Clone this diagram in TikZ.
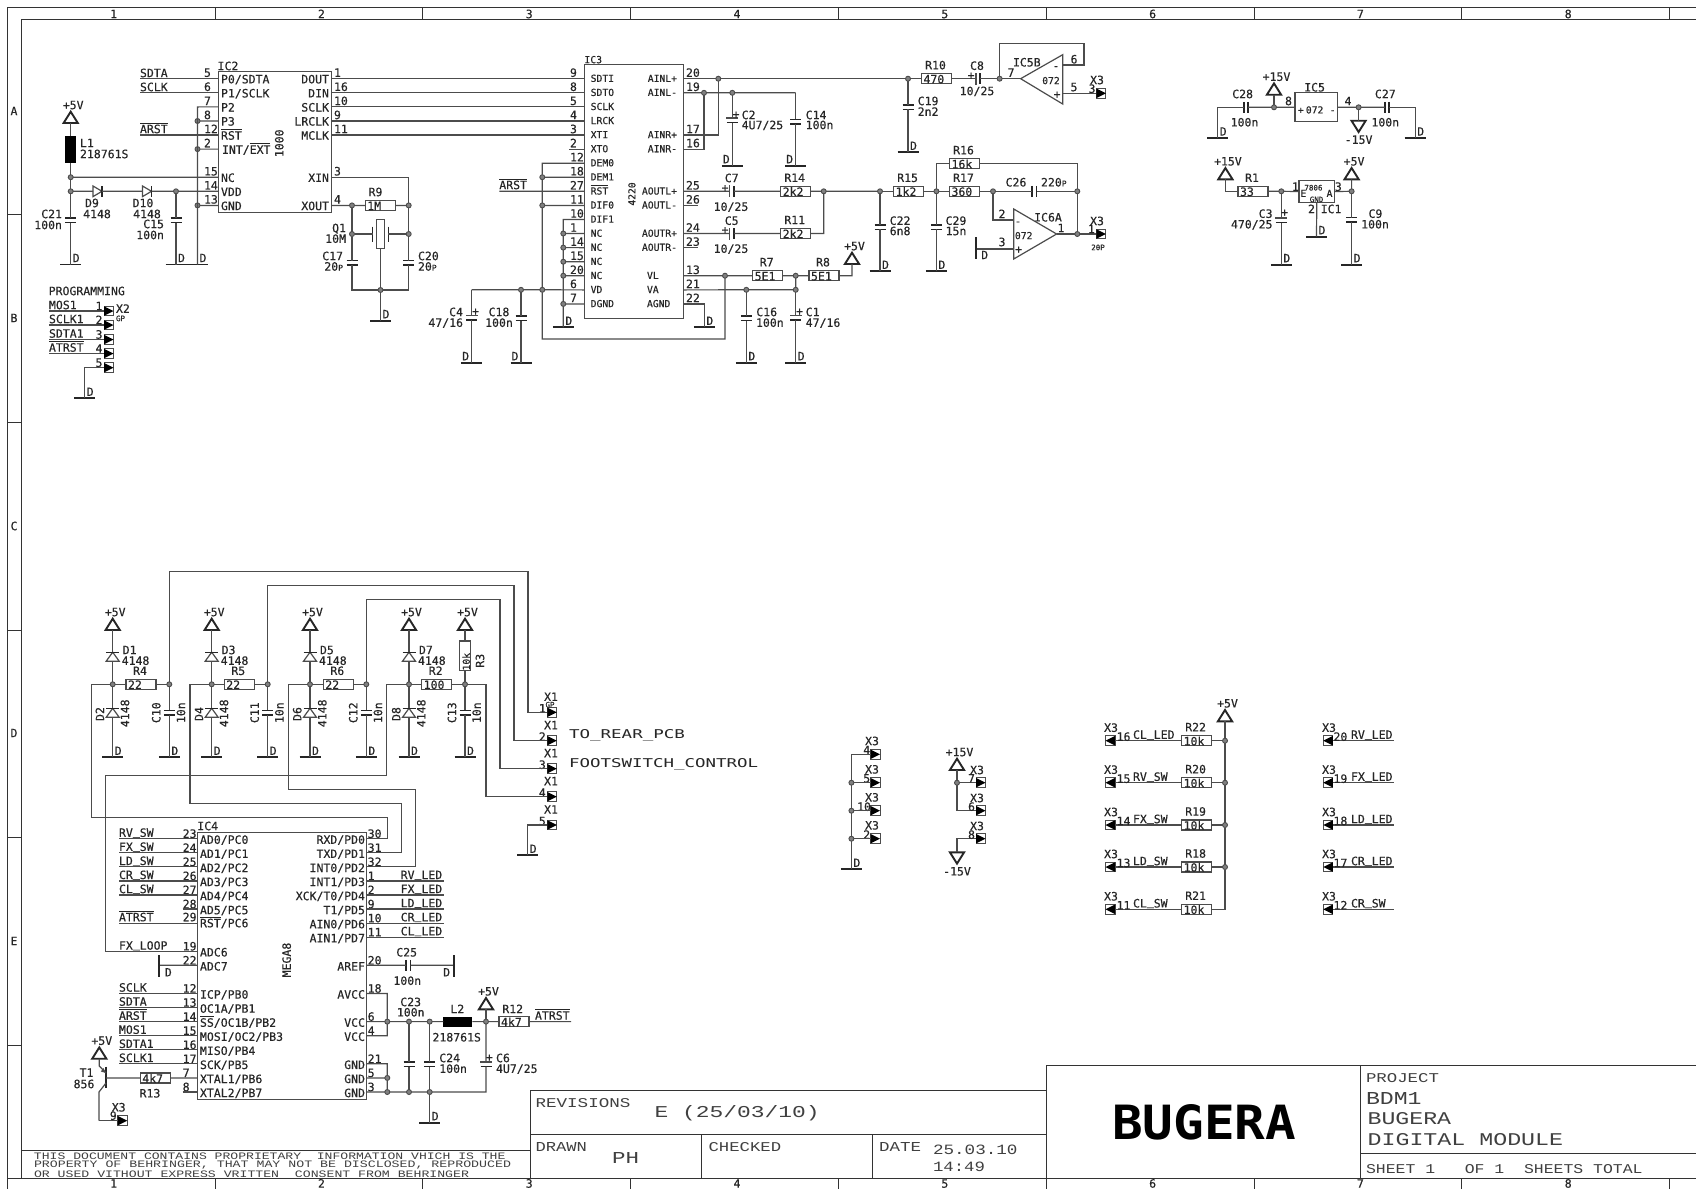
\documentclass[tikz,border=0pt]{standalone}
\usepackage{fontspec}
\usepackage{graphicx}
\setmainfont{DejaVu Sans Mono}
\newfontfamily\schem[FakeBold=0.35]{DejaVu Sans Mono}
\newfontfamily\thinfont{Liberation Mono}
\definecolor{wirec}{gray}{0.30}
\definecolor{textc}{gray}{0.15}
\newcounter{tc}
\newcommand\smf{\fontsize{9.7}{9.7}\selectfont}
\newcommand\tnf{\fontsize{7.5}{7.5}\selectfont}
\newcommand\smP{{\fontsize{8}{8}\selectfont P}}
\newcommand\ovl[1]{\vbox{\hrule height .9pt \kern 1.1pt \hbox{#1}}}
\newcommand\us{\raisebox{2pt}{\_}}
\tikzset{
 wire/.style={draw=wirec,line width=1.2pt,line join=miter},
 part/.style={draw=wirec,line width=1.2pt},
 frm/.style={draw=black!80,line width=1pt},
 plate/.style={draw=textc,line width=1.6pt},
 sup/.style={draw=textc,line width=1.9pt,line join=miter},
 bar/.style={draw=textc,line width=1.9pt},
 lbl/.style={font=\schem\fontsize{11.5}{11.5}\selectfont,inner sep=0pt,outer sep=0pt,text=textc,text height=8.3pt,text depth=0pt},
 holder/.style={rectangle,inner sep=0pt,outer sep=0pt},
 resbox/.style={rectangle,draw=wirec,line width=1.2pt,inner sep=0pt,outer sep=0pt,minimum width=30pt,minimum height=10pt},
 icbox/.style={rectangle,draw=wirec,line width=1.2pt,inner sep=0pt,outer sep=0pt,anchor=north west},
 jdot/.style={circle,draw=wirec,fill=black!50,line width=.9pt,inner sep=0pt,outer sep=0pt,minimum size=5pt},
 ind/.style={rectangle,fill=black,inner sep=0pt,outer sep=0pt},
 conbox/.style={rectangle,draw=wirec,line width=1pt,inner sep=0pt,outer sep=0pt,minimum width=9.5pt,minimum height=9.5pt},
 fit/.style={inner sep=0pt,outer sep=0pt,anchor=west,text=black!75}
}
\newcommand\lblL[3]{\stepcounter{tc}\node[lbl,anchor=west] (t\arabic{tc}) at (#1,#2) {#3};}
\newcommand\lblR[3]{\stepcounter{tc}\node[lbl,anchor=east] (t\arabic{tc}) at (#1,#2) {#3};}
\newcommand\lblC[3]{\stepcounter{tc}\node[lbl] (t\arabic{tc}) at (#1,#2) {#3};}
\newcommand\lblV[3]{\stepcounter{tc}\node[lbl,rotate=90] (t\arabic{tc}) at (#1,#2) {#3};}
\newcommand\fitT[5]{\stepcounter{tc}\node[fit] (t\arabic{tc}) at (#1,#2) {\resizebox{#3pt}{#4pt}{\thinfont #5}};}
\newcommand\jn[3]{\node[jdot] (#1) at (#2,#3) {};}
\newcommand\rsn[4]{\node[resbox,anchor=west] (#1) at (#2,#3) {};\lblL{#2+2}{#3+.5}{#4}}
\newcommand\rs[4]{\rsn{#1}{#2}{#3}{#4}\lblC{#2+14}{#3-13.5}{#1}}
\newcommand\cpv[3]{\node[holder,minimum width=11pt,minimum height=4.4pt] (#1) at (#2,#3) {};
 \draw[plate] (#1.north west)--(#1.north east) (#1.south west)--(#1.south east);}
\newcommand\cph[3]{\node[holder,minimum width=4.4pt,minimum height=11pt] (#1) at (#2,#3) {};
 \draw[plate] (#1.north west)--(#1.south west) (#1.north east)--(#1.south east);}
\newcommand\ppv[3]{\node[holder,minimum width=11pt,minimum height=5pt] (#1) at (#2,#3) {};
 \draw[part,line width=.9pt] (#1.north west) rectangle ([yshift=1.8pt]#1.east);
 \draw[plate,line width=1.9pt] (#1.south west)--(#1.south east);}
\newcommand\pph[3]{\node[holder,minimum width=5pt,minimum height=11pt] (#1) at (#2,#3) {};
 \draw[part,line width=.9pt] (#1.north west) rectangle ([xshift=-1.8pt]#1.south);
 \draw[plate,line width=1.9pt] (#1.north east)--(#1.south east);}
\newcommand\gnd[3]{\coordinate (#1) at (#2,#3);\draw[bar] (#2-10.5,#3)--(#2+10.5,#3);\lblC{#2+5.5}{#3-6.5}{D}}
\newcommand\gndl[3]{\coordinate (#1) at (#2,#3);\draw[bar] (#2-10.5,#3)--(#2+10.5,#3);\lblC{#2-6}{#3-6.5}{D}}
\newcommand\vup[4]{\coordinate (#1) at (#2,#3);\draw[sup] (#2-7.1,#3)--(#2,#3-11.3)--(#2+7.1,#3)--cycle;\lblC{#2+2.5}{#3-18}{#4}}
\newcommand\vdn[4]{\coordinate (#1) at (#2,#3);\draw[sup] (#2-7.1,#3)--(#2,#3+11.3)--(#2+7.1,#3)--cycle;\lblC{#2}{#3+19}{#4}}
\newcommand\dih[3]{\node[holder,minimum width=9pt,minimum height=10.6pt] (#1) at (#2,#3) {};
 \draw[part] (#1.north west)--(#1.south west)--(#1.east)--cycle;
 \draw[plate,line width=1.2pt] (#1.north east)--(#1.south east);}
\newcommand\diu[3]{\node[holder,minimum width=13pt,minimum height=9pt] (#1) at (#2,#3) {};
 \draw[part] (#1.south west)--(#1.south east)--(#1.north)--cycle;
 \draw[plate,line width=1.2pt] (#1.north west)--(#1.north east);}
\newcommand\conr[3]{\node[conbox,anchor=west] (#1) at (#2,#3) {};
 \fill[black] (#1.north west)--(#1.east)--(#1.south west)--cycle;}
\newcommand\conl[3]{\node[conbox,anchor=east] (#1) at (#2,#3) {};
 \fill[black] (#1.north east)--(#1.west)--(#1.south east)--cycle;}
\begin{document}
\begin{tikzpicture}[x=1pt,y=-1pt]
\useasboundingbox (0,0) rectangle (1696,1188.6);
\fill[white] (0,0) rectangle (1696,1188.6);
% ---------- frame
\draw[frm] (7,1189)--(7,7)--(1696,7);
\draw[frm] (21,1178)--(21,19.5)--(1696,19.5);
\draw[frm] (7,1178)--(1696,1178);
\foreach \y in {214,422,630,837,1045} \draw[frm] (7,\y)--(21,\y);
\foreach \k in {0,...,7} {
  \draw[frm] ({215+207.8*\k},7)--({215+207.8*\k},19.5);
  \draw[frm] ({215+207.8*\k},1178)--({215+207.8*\k},1189);
}
\foreach \k/\n in {0/1,1/2,2/3,3/4,4/5,5/6,6/7,7/8} {
  \lblC{113.6+207.8*\k}{14}{\n}
  \lblC{113.6+207.8*\k}{1183.5}{\n}
}
\foreach \y/\n in {111/A,318/B,526/C,733/D,941/E} \lblC{14}{\y}{\n}
% ---------- title block
\draw[frm] (21,1150.7)--(530,1150.7);
\draw[frm] (530,1178)--(530,1090)--(1046,1090);
\draw[frm] (530,1134)--(1046,1134);
\draw[frm] (701,1134)--(701,1178);
\draw[frm] (872,1134)--(872,1178);
\draw[frm] (1046,1178)--(1046,1065.3)--(1696,1065.3);
\draw[frm] (1360.5,1065.3)--(1360.5,1178);
\draw[frm] (1360.5,1153)--(1696,1153);
\fitT{34}{1156.3}{471.5}{6.6}{THIS DOCUMENT CONTAINS PROPRIETARY~~INFORMATION VHICH IS THE}
\fitT{34}{1165.2}{477}{6.6}{PROPERTY OF BEHRINGER, THAT MAY NOT BE DISCLOSED, REPRODUCED}
\fitT{34}{1174}{435}{6.6}{OR USED VITHOUT EXPRESS VRITTEN~~CONSENT FROM BEHRINGER}
\fitT{535.5}{1103}{95}{9}{REVISIONS}
\fitT{654.5}{1113.3}{165}{12}{E (25/03/10)}
\fitT{535.5}{1147}{51.5}{9}{DRAWN}
\fitT{612}{1158}{27}{11}{PH}
\fitT{708.6}{1147}{72.5}{9}{CHECKED}
\fitT{879}{1147}{42}{9}{DATE}
\fitT{933}{1150}{84.5}{9.5}{25.03.10}
\fitT{933}{1167}{52}{9.5}{14:49}
\stepcounter{tc}\node[fit,text=black] (logo) at (1112,1122.5) {\resizebox{184pt}{35pt}{\bfseries BUGERA}};
\fitT{1366}{1078}{73}{9}{PROJECT}
\fitT{1366}{1098}{55.6}{12}{BDM1}
\fitT{1367.6}{1119}{83.5}{12}{BUGERA}
\fitT{1367.6}{1140}{195.5}{12}{DIGITAL MODULE}
\fitT{1366}{1169}{276.5}{9}{SHEET 1~~~OF 1~~SHEETS TOTAL}
% ---------- pin coordinates
\foreach \k in {0,...,16} {
  \coordinate (c\k) at (218.7,{78.7+14.08*\k});
  \coordinate (d\k) at (331.7,{78.7+14.08*\k});
  \coordinate (a\k) at (584.3,{78.7+14.08*\k});
  \coordinate (b\k) at (683.3,{78.7+14.08*\k});
  \coordinate (cs\k) at (140,{78.7+14.08*\k});
  \coordinate (as\k) at (569.3,{78.7+14.08*\k});
  \coordinate (bs\k) at (698,{78.7+14.08*\k});
}
\foreach \k in {0,...,18} {
  \coordinate (e\k) at (197.7,{838.7+14.07*\k});
  \coordinate (f\k) at (366.7,{838.7+14.07*\k});
  \coordinate (es\k) at (119,{838.7+14.07*\k});
  \coordinate (et\k) at (182.7,{838.7+14.07*\k});
  \coordinate (fs\k) at (444.3,{838.7+14.07*\k});
}
% ---------- IC2
\node[icbox,minimum width=113pt,minimum height=141pt] (IC2) at (218.7,71.7) {};
\lblC{228}{66}{IC2}
\lblV{279.3}{143.3}{1000}
\foreach \k/\n/\p in {0/5/{P0/SDTA},1/6/{P1/SCLK},2/7/P2,3/8/P3,4/12/{\ovl{RST}},7/15/NC,8/14/VDD,9/13/GND}
 { \lblL{204}{78.7+14.08*\k-6}{\n} \lblL{221}{78.7+14.08*\k+.5}{\p} }
\lblL{204}{143.1}{2}
\lblL{222}{149.6}{INT/\ovl{EXT}}
\foreach \k/\n/\p in {0/1/DOUT,1/16/DIN,2/10/SCLK,3/9/LRCLK,4/11/MCLK,7/3/XIN,9/4/XOUT}
 { \lblL{334}{78.7+14.08*\k-6}{\n} \lblR{329}{78.7+14.08*\k+.5}{\p} }
\lblL{140}{73}{SDTA}
\lblL{140}{87}{SCLK}
\lblL{140}{129}{\ovl{ARST}}
\foreach \k in {0,1,4} \draw[wire] (cs\k)--(c\k);
\foreach \k in {0,...,4} \draw[wire] (d\k)--(a\k);
\coordinate (p7) at (197.5,106.9);
\gnd{gB2}{197.5}{264.5}
\jn{j8}{197.5}{121}
\jn{j2}{197.5}{149.1}
\jn{j13}{197.5}{205.4}
\draw[wire] (c2)--(p7)--(gB2);
\draw[wire] (j8)--(c3) (j2)--(c5) (j13)--(c9);
\vup{vA}{70.7}{123}{+5V}
\node[ind,minimum width=11pt,minimum height=27.5pt] (L1) at (70.7,149.4) {};
\lblL{80}{143}{L1}
\lblL{80}{154}{218761S}
\jn{j15}{70.7}{177.2}
\jn{j14}{70.7}{191.3}
\cpv{C21}{70.7}{220.3}
\gnd{gA}{70.7}{264.5}
\draw[wire] (vA)--(L1.north) (L1.south)--(j15)--(j14)--(C21.north) (C21.south)--(gA);
\draw[wire] (j15)--(c7);
\lblR{62}{214}{C21}
\lblR{62}{225}{100n}
\dih{D9}{97.5}{191.3}
\dih{D10}{147}{191.3}
\jn{j14b}{176}{191.3}
\draw[wire] (j14)--(D9.west) (D9.east)--(D10.west) (D10.east)--(j14b)--(c8);
\lblC{92}{203}{D9}
\lblC{97}{214}{4148}
\lblC{143}{203}{D10}
\lblC{147}{214}{4148}
\cpv{C15}{176}{220.3}
\gnd{gB}{176}{264.5}
\draw[wire] (j14b)--(C15.north) (C15.south)--(gB);
\lblR{164}{224}{C15}
\lblR{164}{235}{100n}
% crystal
\jn{jXa}{352}{205.4}
\jn{jXb}{408.7}{205.4}
\jn{jQa}{352}{234}
\jn{jQb}{408.7}{234}
\jn{jXg}{380.5}{290}
\rsn{R9}{365.3}{205.4}{1M}
\lblC{375.5}{192}{R9}
\node[resbox,minimum width=7.5pt,minimum height=29pt] (Q1) at (380.5,233.8) {};
\coordinate (Qa) at (372.7,234);
\coordinate (Qb) at (388.3,234);
\draw[plate,line width=1.2pt] (372.7,226.5)--(372.7,241.5) (388.3,226.5)--(388.3,241.5);
\cpv{C17}{352}{262.8}
\cpv{C20}{408.7}{262.8}
\gnd{gQ}{380.5}{320.7}
\draw[wire] (d7)-|(jXb)--(jQb)--(C20.north) (C20.south)|-(jXg);
\draw[wire] (d9)--(jXa)--(R9.west) (R9.east)--(jXb);
\draw[wire] (jXa)--(jQa)--(C17.north) (C17.south)|-(jXg);
\draw[wire] (jQa)--(Qa) (Qb)--(jQb);
\draw[wire] (Q1.south)--(jXg)--(gQ);
\lblR{346}{228}{Q1}
\lblR{346}{238.7}{10M}
\lblR{343}{256}{C17}
\lblR{343}{266.5}{20\smP}
\lblL{418}{256}{C20}
\lblL{418}{266.5}{20\smP}
% programming
\lblL{48.7}{291}{PROGRAMMING}
\foreach \n/\y/\t/\p in {a/311/MOS1/1,b/325/SCLK1/2,c/339.5/SDTA1/3,d/353.5/{\ovl{ATRST}}/4} {
  \conr{X2\n}{104}{\y}
  \coordinate (pr\n) at (49,\y);
  \draw[wire] (pr\n)--(X2\n.west);
  \lblL{49}{\y-6}{\t}
  \lblC{99}{\y-5}{\p}
}
\conr{X2e}{104}{367.7}
\gnd{gP}{84.7}{398.3}
\draw[wire] (X2e.west)-|(gP);
\lblC{99}{362.7}{5}
\lblL{116}{308.7}{X2}
\lblL{116}{317}{\tnf GP}
% ---------- IC3
\node[icbox,minimum width=99pt,minimum height=253.6pt] (IC3) at (584.3,64.7) {};
\lblL{584.5}{59}{\smf IC3}
\lblV{631.3}{194}{\smf 4220}
\foreach \k/\n/\p in {0/9/SDTI,1/8/SDTO,2/5/SCLK,3/4/LRCK,4/3/XTI,5/2/XTO,6/12/DEM0,7/18/DEM1,8/27/{\ovl{RST}},9/11/DIF0,10/10/DIF1,11/1/NC,12/14/NC,13/15/NC,14/20/NC,15/6/VD,16/7/DGND}
 { \lblL{570}{78.7+14.08*\k-6}{\n} \lblL{590.7}{78.7+14.08*\k-1}{\smf \p} }
\foreach \k/\n in {0/20,1/19,4/17,5/16,8/25,9/26,11/24,12/23,14/13,15/21,16/22}
 { \lblL{686}{78.7+14.08*\k-6}{\n} }
\foreach \k/\p in {0/AINL+,1/AINL-,4/AINR+,5/AINR-,8/AOUTL+,9/AOUTL-,11/AOUTR+,12/AOUTR-}
 { \lblR{677}{78.7+14.08*\k-1}{\smf \p} }
\foreach \k/\p in {14/VL,15/VA,16/AGND}
 { \lblL{647}{78.7+14.08*\k-1}{\smf \p} }
\foreach \k in {5} \draw[wire] (as\k)--(a\k);
\foreach \k in {9,12} \draw[wire] (b\k)--(bs\k);
% left bus
\jn{jL7}{542.3}{177.2}
\jn{jL9}{542.3}{205.4}
\jn{jL15}{542.3}{289.8}
\jn{jVD}{521}{289.8}
\jn{jN11}{563.3}{233.5}
\jn{jN12}{563.3}{247.6}
\jn{jN13}{563.3}{261.7}
\jn{jN14}{563.3}{275.7}
\jn{jN16}{563.3}{303.9}
\jn{jVL}{725}{275.7}
\coordinate (busT) at (542.3,163.2);
\coordinate (busB) at (542.3,339);
\coordinate (busR) at (725,339);
\coordinate (c4t) at (471.7,289.8);
\coordinate (rstS) at (499.3,191.3);
\draw[wire] (a6)--(busT)--(jL7)--(jL9)--(jL15)--(busB)--(busR)--(jVL);
\draw[wire] (jL7)--(a7) (jL9)--(a9) (rstS)--(a8);
\lblL{499.3}{185}{\ovl{ARST}}
\coordinate (n10) at (563.3,219.4);
\gnd{gN}{563.3}{327.3}
\draw[wire] (a10)--(n10)--(jN11)--(jN12)--(jN13)--(jN14)--(jN16)--(gN);
\foreach \k/\j in {11/jN11,12/jN12,13/jN13,14/jN14,16/jN16} \draw[wire] (\j)--(a\k);
\draw[wire] (c4t)--(jVD)--(jL15)--(a15);
\ppv{C4}{471.7}{317.5}
\cpv{C18}{521}{318.3}
\gndl{gC4}{471.7}{362.7}
\gndl{gC18}{521}{362.7}
\draw[wire] (c4t)--(C4.north) (C4.south)--(gC4) (jVD)--(C18.north) (C18.south)--(gC18);
\lblC{475.5}{311}{+}
\lblR{463}{312}{C4}
\lblR{463}{322.7}{47/16}
\lblC{499}{312}{C18}
\lblC{499}{322.7}{100n}
% right side inputs
\jn{jA0}{718.3}{78.7}
\jn{jA1}{704}{92.8}
\jn{jC2}{732.3}{92.8}
\coordinate (c14t) at (795.7,92.8);
\jn{jR10}{908}{78.7}
\draw[wire] (b0)--(jA0)--(jR10);
\draw[wire] (b1)--(jA1)--(jC2)--(c14t);
\draw[wire] (b4)-|(jA0);
\draw[wire] (b5)-|(jA1);
\ppv{C2}{732.3}{120}
\cpv{C14}{795.7}{121.5}
\gndl{gC2}{732.3}{165.7}
\gndl{gC14}{795.7}{165.7}
\draw[wire] (jC2)--(C2.north) (C2.south)--(gC2) (c14t)--(C14.north) (C14.south)--(gC14);
\lblC{736}{114}{+}
\lblL{741.7}{115}{C2}
\lblL{741.7}{125}{4U7/25}
\lblL{805.7}{115}{C14}
\lblL{805.7}{125}{100n}
% outputs
\pph{C7}{731.7}{191.3}
\pph{C5}{731.7}{233.5}
\rs{R14}{780.7}{191.3}{2k2}
\rs{R11}{780.7}{233.5}{2k2}
\jn{jMix}{823.7}{191.3}
\jn{jF}{880}{191.3}
\draw[wire] (b8)--(C7.west) (C7.east)--(R14.west) (R14.east)--(jMix)--(jF);
\draw[wire] (b11)--(C5.west) (C5.east)--(R11.west) (R11.east)-|(jMix);
\lblC{731.7}{178}{C7}
\lblC{731}{206.7}{10/25}
\lblC{725}{187.5}{+}
\lblC{731.7}{220.7}{C5}
\lblC{731}{248.7}{10/25}
\lblC{725}{229.5}{+}
% VL VA
\rs{R7}{752.7}{275.7}{5E1}
\rs{R8}{809}{275.7}{5E1}
\jn{jVA}{795.7}{275.7}
\jn{jVb}{795.7}{289.8}
\jn{jC16}{746.3}{289.8}
\vup{vR8}{852}{264}{+5V}
\coordinate (r8c) at (852,275.7);
\draw[wire] (b14)--(jVL)--(R7.west) (R7.east)--(jVA)--(R8.west) (R8.east)--(r8c)--(vR8);
\draw[wire] (b15)--(jC16)--(jVb)--(jVA);
\cpv{C16}{746.3}{318.3}
\ppv{C1}{795.7}{317.5}
\gnd{gC16}{746.3}{362.7}
\gnd{gC1}{795.7}{362.7}
\draw[wire] (jC16)--(C16.north) (C16.south)--(gC16) (jVb)--(C1.north) (C1.south)--(gC1);
\lblC{799.5}{311}{+}
\lblC{766.7}{312}{C16}
\lblL{756}{322.7}{100n}
\lblL{805.7}{312}{C1}
\lblL{805.7}{322.7}{47/16}
\gnd{gAG}{704.3}{327.3}
\draw[wire] (b16)-|(gAG);
% ---------- opamp IC5B
\rs{R10}{921.5}{78.7}{470}
\jn{jOA}{999.6}{78.7}
\pph{C8}{977.8}{78.7}
\cpv{C19}{908}{107.2}
\gnd{gC19}{908}{152.3}
\coordinate (u1t) at (1020.6,78.7);
\coordinate (u1m) at (1062.7,65);
\coordinate (u1p) at (1062.7,93.3);
\coordinate (fbA) at (999.6,43.7);
\coordinate (fbB) at (1084,43.7);
\draw[part] (u1t)--(1062.7,54.7)--(1062.7,104)--cycle;
\draw[wire] (jR10)--(R10.west) (R10.east)--(C8.west) (C8.east)--(jOA)--(u1t);
\draw[wire] (jR10)--(C19.north) (C19.south)--(gC19);
\draw[wire] (jOA)--(fbA)--(fbB)|-(u1m);
\conr{X3c}{1096.4}{93.3}
\draw[wire] (u1p)--(X3c.west);
\lblC{977}{65.7}{C8}
\lblC{971}{75}{+}
\lblC{977}{91}{10/25}
\lblL{917.7}{101}{C19}
\lblL{917.7}{111.7}{2n2}
\lblC{1011}{72.7}{7}
\lblC{1074}{59.3}{6}
\lblC{1074}{87}{5}
\lblC{1056}{65.7}{-}
\lblC{1057}{94}{+}
\lblC{1051}{80}{\smf 072}
\lblC{1026.8}{62.3}{IC5B}
\lblC{1097}{80}{X3}
\lblC{1092}{88.7}{3}
% ---------- opamp IC6A
\rs{R15}{893.6}{191.3}{1k2}
\jn{jG}{936.4}{191.3}
\rs{R17}{949.5}{191.3}{360}
\jn{jH}{993}{191.3}
\cph{C26}{1034.4}{191.3}
\jn{jI}{1077.3}{191.3}
\rs{R16}{949.5}{163.7}{16k}
\jn{jO}{1077.3}{234}
\coordinate (fbC) at (936.4,163.7);
\coordinate (fbD) at (1077.3,163.7);
\coordinate (u2t) at (1056.6,234);
\coordinate (u2m) at (1013.7,220);
\coordinate (u2p) at (1013.7,249);
\coordinate (u2g) at (976.2,249);
\draw[part] (u2t)--(1013.7,209)--(1013.7,259)--cycle;
\draw[wire] (jF)--(R15.west) (R15.east)--(jG)--(R17.west) (R17.east)--(jH)--(C26.west) (C26.east)--(jI);
\draw[wire] (jG)--(fbC)--(R16.west) (R16.east)--(fbD)--(jI)--(jO);
\draw[wire] (jH)|-(u2m);
\draw[wire] (u2g)--(u2p);
\draw[bar] (976.2,237.3)--(976.2,258.7);
\lblC{984.7}{255}{D}
\conr{X3a}{1096.4}{234}
\draw[wire] (u2t)--(jO)--(X3a.west);
\cpv{C22}{880}{227.2}
\cpv{C29}{936.4}{227.2}
\gnd{gC22}{880}{271.3}
\gnd{gC29}{936.4}{271.3}
\draw[wire] (jF)--(C22.north) (C22.south)--(gC22) (jG)--(C29.north) (C29.south)--(gC29);
\lblL{889.7}{220.7}{C22}
\lblL{889.7}{231}{6n8}
\lblL{945.6}{220.7}{C29}
\lblL{945.6}{231}{15n}
\lblC{1016}{182.3}{C26}
\lblL{1041}{182.3}{220\smP}
\lblC{1018}{221}{-}
\lblC{1018.7}{249}{+}
\lblC{1023.7}{235}{\smf 072}
\lblC{1048}{217.3}{IC6A}
\lblC{1002}{214}{2}
\lblC{1002}{242}{3}
\lblC{1061}{228}{1}
\lblC{1097}{221}{X3}
\lblC{1091.4}{229}{1}
\lblC{1098}{246}{\tnf 20P}
% ---------- power group
\gnd{gC28}{1217.7}{138}
\cph{C28}{1246}{107.3}
\jn{jIp}{1274}{107.3}
\vup{vIp}{1274}{94.7}{+15V}
\node[icbox,minimum width=42.5pt,minimum height=29pt] (IC5) at (1295,92.7) {};
\jn{jIm}{1358.6}{107.3}
\cph{C27}{1387}{107.3}
\gnd{gC27}{1415.2}{138}
\vdn{vIm}{1358.6}{120.7}{-15V}
\draw[wire] (gC28)|-(C28.west);
\draw[wire] (C28.east)--(jIp)--(IC5.west) (IC5.east)--(jIm)--(C27.west);
\draw[wire] (C27.east)-|(gC27);
\draw[wire] (jIp)--(vIp) (jIm)--(vIm);
\lblC{1242.6}{94}{C28}
\lblC{1244.5}{122.3}{100n}
\lblC{1288.5}{101}{8}
\lblC{1314.6}{87.3}{IC5}
\lblC{1300.8}{109.3}{\smf +}
\lblC{1314.6}{109.3}{\smf 072}
\lblC{1332.5}{109.3}{\smf -}
\lblC{1348}{101}{4}
\lblC{1385.3}{94}{C27}
\lblC{1385.3}{122.3}{100n}
% regulator
\vup{vR1}{1225.4}{179.3}{+15V}
\rs{R1}{1238}{191.3}{33}
\jn{jC3}{1281.3}{191.3}
\node[icbox,minimum width=35.5pt,minimum height=21.6pt] (IC1) at (1299,180.7) {};
\jn{jC9}{1351.6}{191.3}
\vup{vC9}{1351.6}{179.3}{+5V}
\ppv{C3}{1281.3}{220}
\cpv{C9}{1351.6}{219.8}
\gnd{gC3}{1281.3}{264.7}
\gnd{gC9}{1351.6}{264.7}
\gnd{gIC1}{1316.5}{236.7}
\draw[wire] (vR1)|-(R1.west);
\draw[wire] (R1.east)--(jC3)--(IC1.west) (IC1.east)--(jC9)--(vC9);
\draw[wire] (jC3)--(C3.north) (C3.south)--(gC3) (jC9)--(C9.north) (C9.south)--(gC9);
\draw[wire] (IC1.south)--(gIC1);
\lblC{1284.7}{212}{+}
\lblC{1265.6}{213.7}{C3}
\lblR{1272.5}{224.3}{470/25}
\lblC{1295.4}{186.7}{1}
\lblC{1313.4}{186.3}{\tnf 7806}
\lblC{1303.4}{192.7}{\smf E}
\lblC{1329.5}{192.7}{\smf A}
\lblC{1316.5}{198}{\tnf GND}
\lblC{1338.3}{186.7}{3}
\lblL{1320.7}{209}{IC1}
\lblC{1311.5}{209}{2}
\lblL{1368.5}{213.7}{C9}
\lblL{1361.2}{224.3}{100n}
% ---------- protection stages
\foreach \x/\xr/\xc/\da/\db/\rn/\rv/\cn in
 {112.7/126/169.3/D1/D2/R4/22/C10, 211.7/224.3/267.7/D3/D4/R5/22/C11, 310/323.3/366.3/D5/D6/R6/22/C12, 409/421.7/465/D7/D8/R2/100/C13} {
  \vup{v\da}{\x}{630}{+5V}
  \diu{\da}{\x}{656.7}
  \diu{\db}{\x}{712.8}
  \jn{jd\rn}{\x}{684.3}
  \jn{jc\rn}{\xc}{684.3}
  \rs{\rn}{\xr}{684.3}{\rv}
  \cpv{\cn}{\xc}{712.5}
  \gnd{gd\rn}{\x}{757.3}
  \gnd{gc\rn}{\xc}{757.3}
  \draw[wire] (v\da)--(\da.north) (\da.south)--(jd\rn)--(\db.north) (\db.south)--(gd\rn);
  \draw[wire] (jd\rn)--(\rn.west) (\rn.east)--(jc\rn)--(\cn.north) (\cn.south)--(gc\rn);
  \lblL{\x+10}{650}{\da}
  \lblL{\x+9}{660.7}{4148}
  \lblV{\x-12.7}{714}{\db}
  \lblV{\x+12.3}{713.3}{4148}
  \lblV{\xc-13}{712.7}{\cn}
  \lblV{\xc+11.7}{712.7}{10n}
}
\vup{vR3}{465}{630}{+5V}
\node[resbox,minimum width=11.4pt,minimum height=29.7pt] (R3) at (465,655.9) {};
\draw[wire] (vR3)--(R3.north) (R3.south)--(jcR2);
\lblV{465.7}{661.7}{\smf 10k}
\lblV{480}{660.7}{R3}
% X1 connector
\foreach \n/\y/\p in {a/712.3/1,b/740.7/2,c/768.7/3,d/796.7/4,e/825/5} {
  \conr{X1\n}{547.3}{\y}
  \lblC{551}{\y-15.5}{X1}
  \lblC{542.3}{\y-4}{\p}
}
\lblC{550}{703.3}{\tnf GP}
\coordinate (w5a) at (169.3,571.7);
\coordinate (w5b) at (528,571.7);
\coordinate (w6a) at (267.7,585.7);
\coordinate (w6b) at (514,585.7);
\coordinate (w7a) at (366.3,599.7);
\coordinate (w7b) at (500,599.7);
\coordinate (w8a) at (486,796.7);
\draw[wire] (jcR4)--(w5a)--(w5b)|-(X1a.west);
\draw[wire] (jcR5)--(w6a)--(w6b)|-(X1b.west);
\draw[wire] (jcR6)--(w7a)--(w7b)|-(X1c.west);
\draw[wire] (jcR2)-|(w8a)--(X1d.west);
\gnd{gX1}{527.7}{855.3}
\draw[wire] (X1e.west)-|(gX1);
\stepcounter{tc}\node[fit,text=textc] (tRear) at (569,735.5) {\resizebox{116pt}{9pt}{TO\_REAR\_PCB}};
\stepcounter{tc}\node[fit,text=textc] (tFoot) at (569,764.7) {\resizebox{189pt}{9pt}{FOOTSWITCH\_CONTROL}};
\coordinate (w1a) at (91.7,817.7);
\coordinate (w1b) at (387.3,817.7);
\coordinate (w2a) at (190,803.7);
\coordinate (w2b) at (401.7,803.7);
\coordinate (w3a) at (288.3,789.7);
\coordinate (w3b) at (415.7,789.7);
\coordinate (w4a) at (386.7,775.7);
\coordinate (w4b) at (105.7,775.7);
\draw[wire] (jdR4)-|(w1a)--(w1b)|-(f0);
\draw[wire] (jdR5)-|(w2a)--(w2b)|-(f1);
\draw[wire] (jdR6)-|(w3a)--(w3b)|-(f2);
\draw[wire] (jdR2)-|(w4a)--(w4b)|-(e8);
% ---------- IC4
\node[icbox,minimum width=169pt,minimum height=267.4pt] (IC4) at (197.7,832.3) {};
\lblL{197.3}{826}{IC4}
\lblV{286.7}{960}{MEGA8}
\foreach \k/\n/\p in {0/23/{AD0/PC0},1/24/{AD1/PC1},2/25/{AD2/PC2},3/26/{AD3/PC3},4/27/{AD4/PC4},5/28/{AD5/PC5},8/19/ADC6,9/22/ADC7,11/12/{ICP/PB0},12/13/{OC1A/PB1},14/15/{MOSI/OC2/PB3},15/16/{MISO/PB4},16/17/{SCK/PB5},17/7/{XTAL1/PB6},18/8/{XTAL2/PB7}}
 { \lblL{182.7}{838.7+14.07*\k-5}{\n} \lblL{200}{838.7+14.07*\k+1}{\p} }
\lblL{182.7}{917.1}{29}
\lblL{200}{923.1}{\ovl{RST}/PC6}
\lblL{182.7}{1016.6}{14}
\lblL{200}{1022.6}{\ovl{SS}/OC1B/PB2}
\foreach \k/\n/\p in {0/30/{RXD/PD0},1/31/{TXD/PD1},2/32/{INT0/PD2},3/1/{INT1/PD3},4/2/{XCK/T0/PD4},5/9/{T1/PD5},6/10/{AIN0/PD6},7/11/{AIN1/PD7},9/20/AREF,11/18/AVCC,13/6/VCC,14/4/VCC,16/21/GND,17/5/GND,18/3/GND}
 { \lblL{367.7}{838.7+14.07*\k-5}{\n} \lblR{365}{838.7+14.07*\k+1}{\p} }
\foreach \k/\t in {0/RV\us SW,1/FX\us SW,2/LD\us SW,3/CR\us SW,4/CL\us SW,6/{\ovl{ATRST}},11/SCLK,12/SDTA,13/{\ovl{ARST}},14/MOS1,15/SDTA1,16/SCLK1}
 { \draw[wire] (es\k)--(e\k); \lblL{119}{838.7+14.07*\k-6}{\t} }
\foreach \k in {5,18} \draw[wire] (et\k)--(e\k);
\lblL{119}{945.5}{FX\us LOOP}
\coordinate (adc7) at (159.3,965.3);
\draw[wire] (adc7)--(e9);
\draw[bar] (159.3,955)--(159.3,976.7);
\lblC{168.3}{972.3}{D}
\foreach \k/\t in {3/RV\us LED,4/FX\us LED,5/LD\us LED,6/CR\us LED,7/CL\us LED}
 { \draw[wire] (f\k)--(fs\k); \lblL{400.7}{838.7+14.07*\k-6}{\t} }
\cph{C25}{408.3}{965.3}
\coordinate (aref) at (453.7,965.3);
\draw[wire] (f9)--(C25.west) (C25.east)--(aref);
\draw[bar] (453.7,955)--(453.7,976.7);
\lblC{446.7}{972.3}{D}
\lblC{406.7}{952.3}{C25}
\lblC{407.3}{980.7}{100n}
% IC4 supply
\jn{jV}{387.3}{1021.6}
\jn{jC23}{409}{1021.6}
\jn{jC24}{429.7}{1021.6}
\node[ind,minimum width=29pt,minimum height=10pt] (L2) at (457.8,1021.6) {};
\jn{jC6}{486}{1021.6}
\rsn{R12}{499}{1021.6}{4k7}
\coordinate (atr) at (571,1021.6);
\vup{vL2}{486}{1009.3}{+5V}
\coordinate (avc) at (387.3,993.5);
\coordinate (v4) at (387.3,1035.7);
\draw[wire] (f11)--(avc)--(jV)--(v4)--(f14);
\draw[wire] (f13)--(jV)--(jC23)--(jC24)--(L2.west) (L2.east)--(jC6)--(R12.west) (R12.east)--(atr);
\draw[wire] (jC6)--(vL2);
\lblC{512.7}{1009}{R12}
\lblL{535}{1015.5}{\ovl{ATRST}}
\lblC{457.3}{1009}{L2}
\lblC{456.7}{1037.3}{218761S}
\lblC{410.7}{1002}{C23}
\lblC{410.7}{1012.3}{100n}
\jn{jG17}{387.3}{1077.9}
\jn{jG18}{387.3}{1092}
\jn{jB1}{409}{1092}
\jn{jB2}{429.7}{1092}
\coordinate (g16) at (387.3,1063.8);
\coordinate (c6b) at (486,1092);
\cpv{C23}{409}{1064.4}
\cpv{C24}{429.7}{1064.4}
\ppv{C6}{486}{1064}
\gnd{gIC4}{429.7}{1122.7}
\draw[wire] (f16)--(g16)--(jG17)--(jG18);
\draw[wire] (f17)--(jG17);
\draw[wire] (f18)--(jG18)--(jB1)--(jB2)--(c6b)--(C6.south) (C6.north)--(jC6);
\draw[wire] (jC23)--(C23.north) (C23.south)--(jB1);
\draw[wire] (jC24)--(C24.north) (C24.south)--(jB2)--(gIC4);
\lblL{439.3}{1058}{C24}
\lblL{439.3}{1068.7}{100n}
\lblC{489.3}{1057}{+}
\lblL{496}{1058}{C6}
\lblL{496}{1068.7}{4U7/25}
% transistor
\rsn{R13}{140.3}{1078}{4k7}
\lblC{150}{1093.3}{R13}
\vup{vT1}{99.3}{1058.7}{+5V}
\coordinate (tb) at (106,1078);
\coordinate (tc1) at (99.3,1066);
\coordinate (tc2) at (106,1073);
\coordinate (te1) at (106,1083);
\coordinate (te2) at (99,1092);
\coordinate (te3) at (99,1120.7);
\draw[plate] (106,1066.7)--(106,1088);
\draw[wire] (vT1)--(tc1)--(tc2) (te1)--(te2)--(te3);
\fill[wirec] (106,1073)--(100.8,1071.5)--(103.5,1068)--cycle;
\conr{X3i}{117.7}{1120.7}
\draw[wire] (te3)--(X3i.west);
\draw[wire] (tb)--(R13.west) (R13.east)--(e17);
\lblC{86.5}{1072.7}{T1}
\lblC{84}{1084}{856}
\lblC{118.7}{1107.3}{X3}
\lblC{113.3}{1115.7}{9}
% ---------- X3 group 1
\foreach \n/\y/\p in {a/754.3/4,b/782.7/5,c/810.7/10,d/838.7/2} {
  \conr{Xg\n}{870.5}{\y}
  \lblC{872}{\y-13.3}{X3}
}
\lblC{866.7}{750}{4}
\lblC{866.7}{778.3}{5}
\lblC{864}{806.7}{10}
\lblC{866.7}{834.7}{2}
\coordinate (gt) at (851.4,754.3);
\jn{jg1}{851.4}{782.7}
\jn{jg2}{851.4}{810.7}
\jn{jg3}{851.4}{838.7}
\gnd{gXg}{851.4}{869.3}
\draw[wire] (Xga.west)--(gt)--(jg1)--(jg2)--(jg3)--(gXg);
\draw[wire] (jg1)--(Xgb.west) (jg2)--(Xgc.west) (jg3)--(Xgd.west);
% X3 group 2
\vup{vg}{957}{770}{+15V}
\jn{jh1}{957}{782.7}
\coordinate (hb) at (957,810.7);
\foreach \n/\y in {a/782.7,b/810.7,c/838.7} {
  \conr{Xh\n}{976}{\y}
  \lblC{977}{\y-12.7}{X3}
}
\draw[wire] (vg)--(jh1)--(hb)--(Xhb.west);
\draw[wire] (jh1)--(Xha.west);
\vdn{vh}{957}{852.3}{-15V}
\draw[wire] (Xhc.west)-|(vh);
\lblC{971.5}{778.3}{7}
\lblC{971.5}{806.7}{6}
\lblC{971.5}{834.7}{8}
% X3 group 3
\vup{vi}{1225}{721.3}{+5V}
\foreach \rn/\y/\p/\t in {R22/740.7/16/CL\us LED,R20/782.7/15/RV\us SW,R19/825/14/FX\us SW,R18/867/13/LD\us SW,R21/909.3/11/CL\us SW} {
  \rs{\rn}{1181.6}{\y}{10k}
  \conl{Xi\rn}{1115}{\y}
  \draw[wire] (Xi\rn.east)--(\rn.west);
  \lblC{1111}{\y-13}{X3}
  \lblL{1116.6}{\y-4}{\p}
  \lblL{1133}{\y-6}{\t}
}
\jn{ji1}{1225}{740.7}
\jn{ji2}{1225}{782.7}
\jn{ji3}{1225}{825}
\jn{ji4}{1225}{867}
\draw[wire] (vi)--(ji1)--(ji2)--(ji3)--(ji4);
\draw[wire] (R21.east)-|(ji4);
\draw[wire] (R22.east)--(ji1) (R20.east)--(ji2) (R19.east)--(ji3) (R18.east)--(ji4);
% X3 group 4
\foreach \k/\y/\p/\t in {a/740.7/20/RV\us LED,b/782.7/19/FX\us LED,c/825/18/LD\us LED,d/867/17/CR\us LED,e/909.3/12/CR\us SW} {
  \conl{Xj\k}{1332.8}{\y}
  \coordinate (xje\k) at (1394,\y);
  \draw[wire] (Xj\k.east)--(xje\k);
  \lblC{1329}{\y-13}{X3}
  \lblL{1333.5}{\y-4}{\p}
  \lblL{1351}{\y-6}{\t}
}
\end{tikzpicture}
\end{document}
